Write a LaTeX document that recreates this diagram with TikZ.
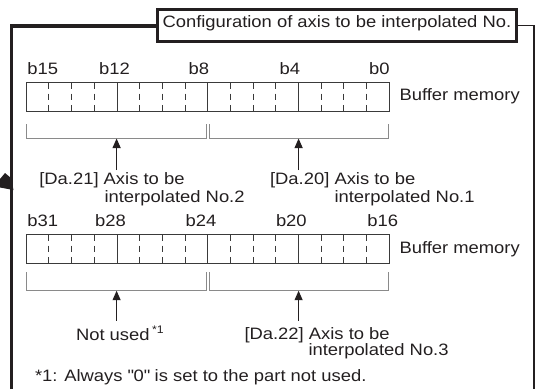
\documentclass[tikz,border=0pt]{standalone}
\usepackage{fontspec}
\setmainfont{Liberation Sans}[FakeStretch=1.115]
\usetikzlibrary{arrows.meta}
\definecolor{ink}{HTML}{231F20}
\definecolor{brk}{HTML}{8A8A8A}
\definecolor{regc}{HTML}{3A3A3A}
\tikzset{
  txt/.style={inner sep=0pt, outer sep=0pt, text=ink, font=\fontsize{16.5}{19}\selectfont},
  frame/.style={line width=3.2pt, draw=ink, line join=miter},
  rframe/.style={line width=1.8pt, draw=ink, line join=miter},
  titlebox/.style={draw=ink, line width=2.4pt, fill=white, inner sep=0pt,
    minimum width=358.8pt, minimum height=31.8pt, text height=10pt, text depth=5pt,
    text=ink, font=\fontsize{16.5}{19}\selectfont},
  regbox/.style={draw=regc, line width=1.2pt},
  solidsep/.style={draw=regc, line width=0.9pt},
  dashsep/.style={draw=regc, line width=0.8pt, dash pattern=on 6.5pt off 4.8pt},
  bracket/.style={draw=brk, line width=1pt},
  arr/.style={draw=ink, line width=1.1pt, -{Triangle[width=8pt,length=9.5pt]}},
}
\begin{document}
\begin{tikzpicture}[x=1pt,y=-1pt]
\useasboundingbox (0,0) rectangle (536,389);
% outer frame
\draw[frame] (11.7,389) -- (11.7,26) -- (158,26);
\draw[rframe] (516,25.5) -- (534.3,25.5) -- (534.3,389);
\fill[ink] (5,173) -- (11,178) -- (13.5,190) -- (0,187.5) -- (0,179) -- cycle;
% title
\node[titlebox] (title) at (336.9,25.4) {Configuration of axis to be interpolated No.};
% registers
\foreach \yt/\yb in {82.3/111.5, 234.3/263.3}{
  \foreach \i in {1,...,15}{
    \pgfmathsetmacro{\xx}{26.2+\i*22.6875}
    \pgfmathtruncatemacro{\m}{mod(\i,4)}
    \ifnum\m=0
      \draw[solidsep] (\xx,\yt) -- (\xx,\yb);
    \else
      \draw[dashsep] (\xx,\yt) -- (\xx,\yb);
    \fi
  }
  \draw[regbox] (26.2,\yt) rectangle (389.2,\yb);
}
% bit labels upper
\node[txt, anchor=base west] (b15) at (27.3,74) {b15};
\node[txt, anchor=base west] (b12) at (99.1,74) {b12};
\node[txt, anchor=base east] (b8) at (209.2,74) {b8};
\node[txt, anchor=base east] (b4) at (300.1,74) {b4};
\node[txt, anchor=base east] (b0) at (389.7,74) {b0};
\node[txt, anchor=base west] (bm1) at (399.5,100) {Buffer memory};
% brackets upper
\draw[bracket] (26.2,124) -- (26.2,138.5) -- (206,138.5) -- (206,124);
\draw[bracket] (209,124) -- (209,138.5) -- (388.5,138.5) -- (388.5,124);
\coordinate (t1) at (116.6,138.5);
\coordinate (s1) at (116.6,170);
\coordinate (t2) at (298.6,138.5);
\coordinate (s2) at (298.6,170);
\draw[arr] (s1) -- (t1);
\draw[arr] (s2) -- (t2);
\node[txt, anchor=base west] (l21a) at (39.3,184) {[Da.21] Axis to be};
\node[txt, anchor=base west] (l21b) at (104.5,202.5) {interpolated No.2};
\node[txt, anchor=base west] (l20a) at (270.1,184) {[Da.20] Axis to be};
\node[txt, anchor=base west] (l20b) at (334.5,202.5) {interpolated No.1};
% bit labels lower
\node[txt, anchor=base west] (b31) at (27.4,226) {b31};
\node[txt, anchor=base west] (b28) at (95.1,226) {b28};
\node[txt, anchor=base west] (b24) at (185.7,226) {b24};
\node[txt, anchor=base west] (b20) at (276,226) {b20};
\node[txt, anchor=base west] (b16) at (367.3,226) {b16};
\node[txt, anchor=base west] (bm2) at (399.5,253) {Buffer memory};
% brackets lower
\draw[bracket] (26.2,272) -- (26.2,290.7) -- (206,290.7) -- (206,272);
\draw[bracket] (209,272) -- (209,290.7) -- (388.5,290.7) -- (388.5,272);
\coordinate (t3) at (116.6,290.7);
\coordinate (s3) at (116.6,320.5);
\coordinate (t4) at (298.6,290.7);
\coordinate (s4) at (298.6,320.5);
\draw[arr] (s3) -- (t3);
\draw[arr] (s4) -- (t4);
\node[txt, anchor=base west] (nu) at (76,340.7) {Not used\hspace{2.5pt}\raisebox{7.7pt}{\fontsize{11}{11}\selectfont *1}};
\node[txt, anchor=base west] (l22a) at (244.5,339.5) {[Da.22] Axis to be};
\node[txt, anchor=base west] (l22b) at (308.5,355.7) {interpolated No.3};
\node[txt, anchor=base west] (note) at (35,381) {*1: Always \textquotedbl 0\textquotedbl{} is set to the part not used.};
\end{tikzpicture}
\end{document}
